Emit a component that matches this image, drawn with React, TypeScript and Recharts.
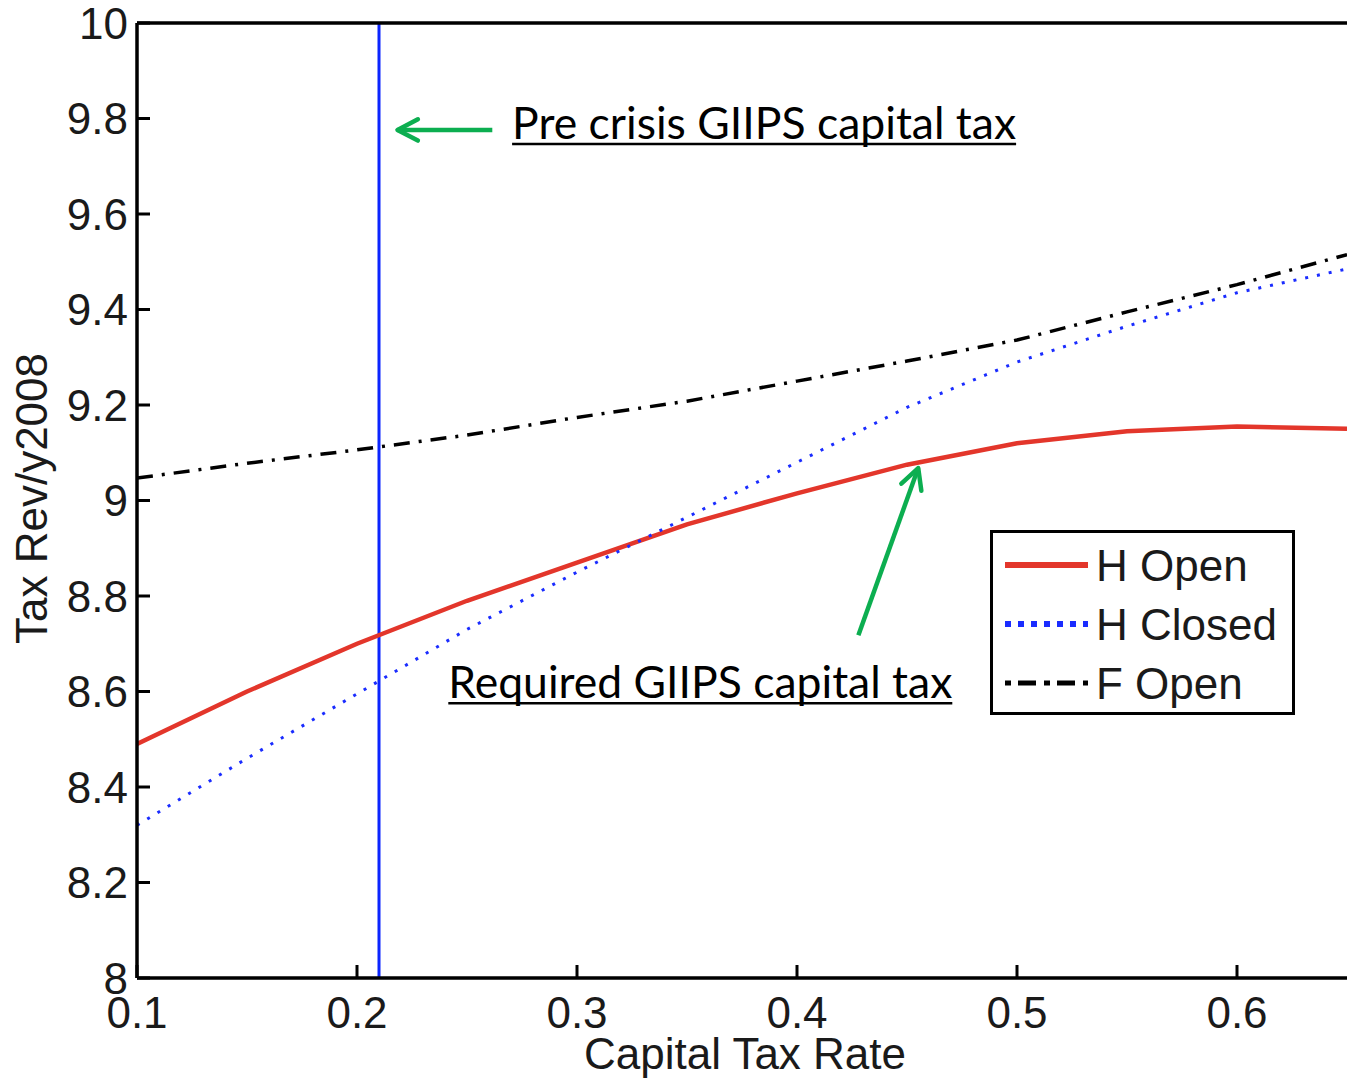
import React from 'react';
import { LineChart, Line, XAxis, YAxis, ReferenceLine, ReferenceDot, Legend } from 'recharts';

// capital tax rate grid and tax revenue / y2008 for each case
const TAX_RATE = [0.1, 0.15, 0.2, 0.25, 0.3, 0.35, 0.4, 0.45, 0.5, 0.55, 0.6, 0.65];
const H_OPEN = [8.49, 8.6, 8.7, 8.79, 8.87, 8.95, 9.015, 9.075, 9.12, 9.145, 9.155, 9.15];
const H_CLOSED = [8.32, 8.46, 8.595, 8.73, 8.85, 8.965, 9.08, 9.195, 9.29, 9.365, 9.435, 9.485];
const F_OPEN = [9.047, 9.078, 9.106, 9.137, 9.174, 9.208, 9.25, 9.292, 9.336, 9.395, 9.452, 9.515];

const X_TICKS = [0.1, 0.2, 0.3, 0.4, 0.5, 0.6];
const Y_TICKS = [8, 8.2, 8.4, 8.6, 8.8, 9, 9.2, 9.4, 9.6, 9.8, 10];
const PRE_CRISIS_RATE = 0.21;

// annotations, in data units
const PRE_ARROW = [{ x: 0.2615, y: 9.776 }, { x: 0.2184, y: 9.776 }];
const PRE_NOTE = { x: 0.2705, y: 9.757, text: 'Pre crisis GIIPS capital tax' };
const REQ_ARROW = [{ x: 0.4279, y: 8.718 }, { x: 0.4551, y: 9.068 }];
const REQ_NOTE = { x: 0.2415, y: 8.586, text: 'Required GIIPS capital tax' };

const SERIES = [
  { key: 'hOpen', name: 'H Open', color: '#e3362b', width: 4.5, dash: undefined, legendWidth: 6, legendDash: undefined },
  { key: 'hClosed', name: 'H Closed', color: '#1a2cff', width: 3, dash: '3 9', legendWidth: 6, legendDash: '6 7' },
  { key: 'fOpen', name: 'F Open', color: '#000000', width: 3.5, dash: '16 9 3 9', legendWidth: 5, legendDash: '6 7 18 8' },
];

const rows = TAX_RATE.map((x, i) => ({ x, hOpen: H_OPEN[i], hClosed: H_CLOSED[i], fOpen: F_OPEN[i] }));

const AXIS_FONT = '"Liberation Sans", Arial, sans-serif';
const NOTE_FONT = 'Lato, "Open Sans", sans-serif';
const GREEN = '#0cae50';

const renderYLabel = (props: any) => {
  const vb = props.viewBox;
  const cx = vb.x + 47;
  const cy = vb.y + vb.height / 2 - 2;
  return (
    <text x={cx} y={cy} transform={`rotate(-90 ${cx} ${cy})`} textAnchor="middle"
      fontFamily={AXIS_FONT} fontSize={44} fill="#1a1a1a">
      Tax Rev/y2008
    </text>
  );
};

const renderXLabel = (props: any) => {
  const vb = props.viewBox;
  return (
    <text x={vb.x + vb.width / 2 + 3} y={vb.y + 91} textAnchor="middle"
      fontFamily={AXIS_FONT} fontSize={44} fill="#1a1a1a">
      Capital Tax Rate
    </text>
  );
};

const Arrow = (p: any) => {
  const { x1, y1, x2, y2 } = p;
  const a = Math.atan2(y2 - y1, x2 - x1);
  const len = 23;
  const spread = 0.48;
  const hx1 = x2 - len * Math.cos(a - spread);
  const hy1 = y2 - len * Math.sin(a - spread);
  const hx2 = x2 - len * Math.cos(a + spread);
  const hy2 = y2 - len * Math.sin(a + spread);
  return (
    <g>
      <line x1={x1} y1={y1} x2={x2} y2={y2} stroke={GREEN} strokeWidth={4.5} />
      <polyline points={`${hx1},${hy1} ${x2},${y2} ${hx2},${hy2}`} fill="none"
        stroke={GREEN} strokeWidth={4.5} strokeLinecap="round" strokeLinejoin="round" />
    </g>
  );
};

const noteShape = (text: string) => (p: any) => (
  <g>
    <text x={p.cx} y={p.cy} fontFamily={NOTE_FONT} fontSize={45} fill="#000"
      textLength={504} lengthAdjust="spacingAndGlyphs">
      {text}
    </text>
    <line x1={p.cx} x2={p.cx + 504} y1={p.cy + 5} y2={p.cy + 5} stroke="#000" strokeWidth={2.5} />
  </g>
);

// legend drawn in series order, like the original box
const renderLegend = () => (
  <svg width={305} height={185} style={{ display: 'block' }}>
    <rect x={1.5} y={1.5} width={302} height={182} fill="#fff" stroke="#000" strokeWidth={3} />
    {SERIES.map((s, i) => {
      const cy = 35 + i * 59;
      return (
        <g key={s.key}>
          <line x1={15} x2={98} y1={cy} y2={cy} stroke={s.color} strokeWidth={s.legendWidth}
            strokeDasharray={s.legendDash} />
          <text x={106} y={cy + 16} fontFamily={AXIS_FONT} fontSize={44} fill="#1a1a1a">
            {s.name}
          </text>
        </g>
      );
    })}
  </svg>
);

export default function App() {
  const tick = { fill: '#1a1a1a', fontSize: 44, fontFamily: AXIS_FONT };
  const axisLine = { stroke: '#000', strokeWidth: 3.5 };
  const tickLine = { stroke: '#000', strokeWidth: 3 };
  return (
    <div style={{ width: 1347, height: 1079, overflow: 'hidden', background: '#fff' }}>
      <style>{'body{margin:0}'}</style>
      <LineChart width={1348} height={1079} data={rows} margin={{ top: 0, right: 0, bottom: 0, left: 0 }}>
        <XAxis xAxisId="b" dataKey="x" type="number" domain={[0.1, 0.65]} ticks={X_TICKS}
          allowDataOverflow interval={0} orientation="bottom" height={101}
          tickSize={-13} tickMargin={32} tick={tick} stroke="#000"
          axisLine={axisLine} tickLine={tickLine}
          label={{ content: renderXLabel }} />
        <XAxis xAxisId="t" dataKey="x" type="number" domain={[0.1, 0.65]} ticks={X_TICKS}
          allowDataOverflow interval={0} orientation="top" height={23}
          tickSize={-13} tick={false} stroke="#000"
          axisLine={axisLine} tickLine={tickLine} />
        <YAxis yAxisId="l" type="number" domain={[8, 10]} ticks={Y_TICKS} allowDataOverflow interval={0}
          width={137} tickSize={-13} tickMargin={22} tick={tick} stroke="#000"
          axisLine={axisLine} tickLine={tickLine}
          label={{ content: renderYLabel }} />
        <YAxis yAxisId="r" orientation="right" type="number" domain={[8, 10]} ticks={Y_TICKS}
          allowDataOverflow interval={0} width={1} tickSize={-13} tick={false} axisLine={false}
          tickLine={tickLine} />

        <ReferenceLine xAxisId="b" yAxisId="l" x={PRE_CRISIS_RATE} stroke="#0b25ff" strokeWidth={3} />

        {SERIES.map((s) => (
          <Line key={s.key} xAxisId="b" yAxisId="l" type="linear" dataKey={s.key} name={s.name}
            stroke={s.color} strokeWidth={s.width} strokeDasharray={s.dash}
            dot={false} activeDot={false} isAnimationActive={false} />
        ))}

        <ReferenceLine xAxisId="b" yAxisId="l" segment={PRE_ARROW} shape={Arrow} />
        <ReferenceLine xAxisId="b" yAxisId="l" segment={REQ_ARROW} shape={Arrow} />
        <ReferenceDot xAxisId="b" yAxisId="l" x={PRE_NOTE.x} y={PRE_NOTE.y} r={0}
          shape={noteShape(PRE_NOTE.text)} />
        <ReferenceDot xAxisId="b" yAxisId="l" x={REQ_NOTE.x} y={REQ_NOTE.y} r={0}
          shape={noteShape(REQ_NOTE.text)} />

        <Legend layout="vertical" align="center" verticalAlign="middle" content={renderLegend}
          wrapperStyle={{ left: 990, top: 530, width: 305, height: 185 }} />
      </LineChart>
    </div>
  );
}
